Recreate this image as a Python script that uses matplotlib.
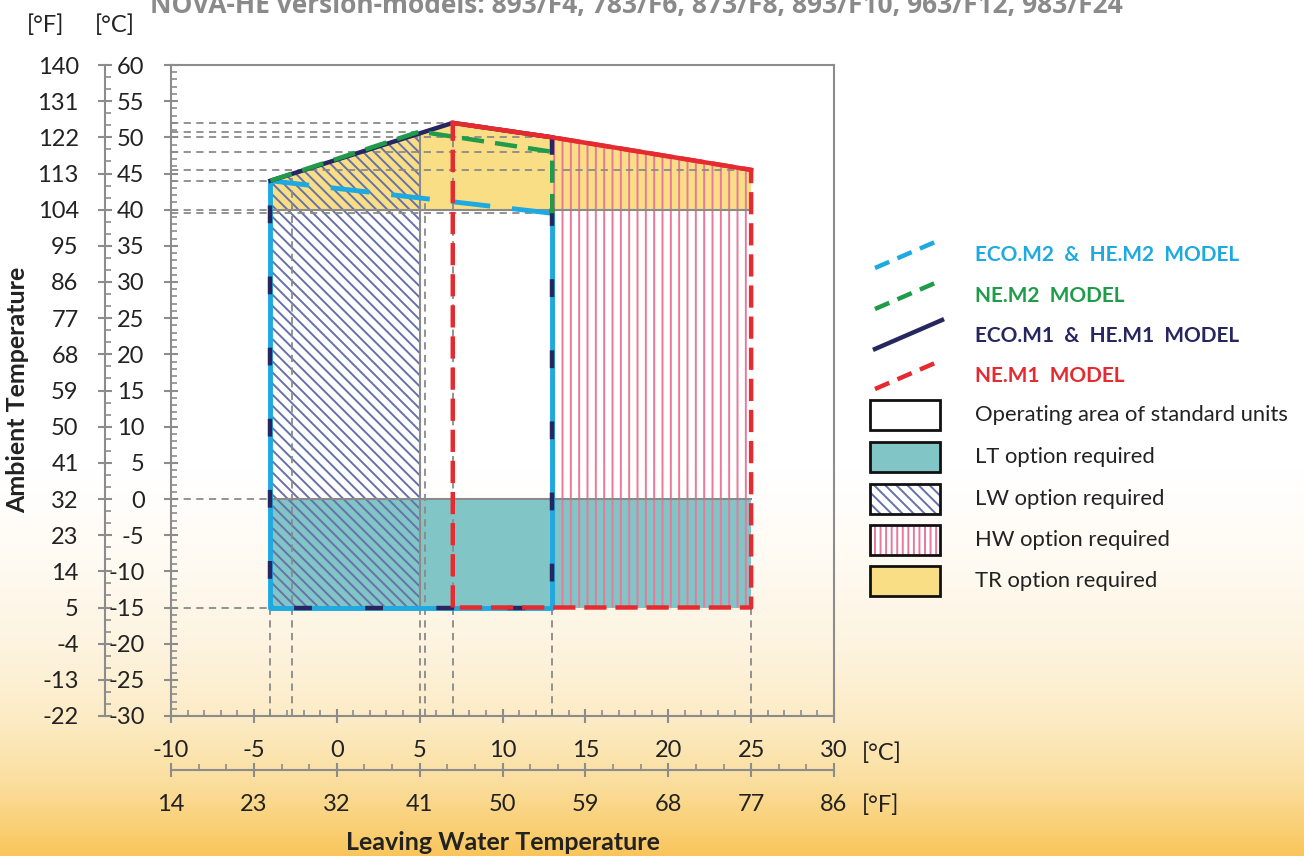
import numpy as np
import matplotlib.pyplot as plt
from matplotlib.patches import Polygon, Rectangle
from matplotlib.lines import Line2D
from matplotlib.ticker import FixedLocator, MultipleLocator

plt.rcParams['font.family'] = ['Lato', 'DejaVu Sans']
plt.rcParams['hatch.linewidth'] = 1.4

# operating envelopes: leaving water temp (°C) vs ambient temp (°C)
m1_x = [-4, -4, 7, 13, 13, -4]          # ECO.M1 & HE.M1
m1_y = [-15, 44, 52, 50, -15, -15]
m2_top_x = [-4, 13]                      # ECO.M2 & HE.M2, upper limit
m2_top_y = [44, 39.5]
m2_x = [13, 13, -4, -4]
m2_y = [39.5, -15, -15, 44]
ne_m2_x = [-4, 5, 13, 13]                # NE.M2
ne_m2_y = [44, 50.8, 48, 39.5]
ne_m1_x = [7, 7, 13, 25, 25, 7]          # NE.M1
ne_m1_y = [-15, 52, 50, 45.5, -15, -15]

# option areas
tr_x = [-4, -4, 7, 13, 25, 25]
tr_y = [40, 44, 52, 50, 45.5, 40]
lt_x = [-4, 25]
lt_y = [-15, 0]
lw_x = [-4, -4, 5, 5]
lw_y = [-15, 44, 50.55, -15]
hw_x = [13, 13, 25, 25]
hw_y = [-15, 50, 45.5, -15]

# dashed guides to the axes
h_guide_y = [52, 50.8, 50, 48, 45.5, 44, 40, 39.5, 0, -15]
h_guide_end = [7, 5, 13, 13, 25, -4, -4, 13, -4, -4]
v_guide_x = [-4, -2.7, 5, 5.3, 7, 13, 25]
v_guide_end = [-15, 44.5, -15, 41.5, 52, -15, -15]

c_xticks = list(range(-10, 31, 5))
f_xticks = [14, 23, 32, 41, 50, 59, 68, 77, 86]
c_yticks = list(range(-30, 61, 5))
f_yticks = [-22, -13, -4, 5, 14, 23, 32, 41, 50, 59, 68, 77, 86, 95, 104, 113, 122, 131, 140]

legend_lines = ['ECO.M2  &  HE.M2  MODEL', 'NE.M2  MODEL', 'ECO.M1  &  HE.M1  MODEL', 'NE.M1  MODEL']
legend_areas = ['Operating area of standard units', 'LT option required', 'LW option required',
                'HW option required', 'TR option required']

c_blue = '#1ea9e1'
c_navy = '#262660'
c_green = '#1f9c49'
c_red = '#e52a30'
c_teal = '#82c5c7'
c_yellow = '#fade85'
c_lw = '#6572aa'
c_hw = '#e8799a'
c_grid = '#8a8a8a'
c_axis = '#8c8c8c'

W, H = 1304, 856
fig = plt.figure(figsize=(W / 100, H / 100), dpi=100)

# background gradient, white to warm yellow at the bottom
bg = fig.add_axes([0, 0, 1, 1], zorder=-10)
rows = np.arange(H)
stops = [0, 470, 560, 650, 720, 780, 856]
cols = np.array([[255, 255, 255], [255, 255, 255], [255, 251, 243], [253, 243, 222],
                 [252, 235, 196], [251, 223, 160], [249, 197, 90]]) / 255
grad = np.stack([np.interp(rows, stops, cols[:, k]) for k in range(3)], axis=1)
bg.imshow(grad[:, None, :], aspect='auto', extent=[0, 1, 0, 1])
bg.axis('off')

ax = fig.add_axes([171 / W, 1 - 716 / H, (834 - 171) / W, (716 - 65) / H])
ax.set_facecolor('none')
ax.set_xlim(-10, 30)
ax.set_ylim(-30, 60)

# filled areas
ax.add_patch(Polygon(list(zip(tr_x, tr_y)), closed=True, facecolor=c_yellow, lw=0, zorder=1))
ax.add_patch(Rectangle((lt_x[0], lt_y[0]), lt_x[1] - lt_x[0], lt_y[1] - lt_y[0],
                       facecolor=c_teal, lw=0, zorder=1))
ax.add_patch(Polygon(list(zip(lw_x, lw_y)), closed=True, fill=False, edgecolor=c_lw,
                     hatch='\\\\\\', lw=0, zorder=2))
ax.add_patch(Polygon(list(zip(hw_x, hw_y)), closed=True, fill=False, edgecolor=c_hw,
                     hatch='||', lw=0, zorder=2))

# thin borders between option areas
ax.plot([-4, 25], [40, 40], color=c_grid, lw=1.5, zorder=3)
ax.plot([-4, 25], [0, 0], color=c_grid, lw=1.5, zorder=3)
ax.plot([5, 5], [-15, 50.55], color=c_grid, lw=1.5, zorder=3)

# dashed guides
for yv, xe in zip(h_guide_y, h_guide_end):
    ax.plot([-10, xe], [yv, yv], color=c_grid, lw=1.3, dashes=(4, 3), zorder=3)
for xv, ye in zip(v_guide_x, v_guide_end):
    ax.plot([xv, xv], [-30, ye], color=c_grid, lw=1.3, dashes=(4, 3), zorder=3)

# envelope outlines
ax.plot(m2_x, m2_y, color=c_blue, lw=3.5, zorder=4, solid_capstyle='butt')
ax.plot(m2_top_x, m2_top_y, color=c_blue, lw=3.5, dashes=(8, 4.5), zorder=4)
ax.plot(m1_x[1:4], m1_y[1:4], color=c_navy, lw=3.2, zorder=5)
ax.plot(m1_x[3:] + [m1_x[0], m1_x[1]], m1_y[3:] + [m1_y[0], m1_y[1]], color=c_navy, lw=3.2,
        dashes=(4, 12), zorder=5)
ax.plot(ne_m2_x, ne_m2_y, color=c_green, lw=3.2, dashes=(5, 2.5), zorder=6)
ax.plot(ne_m1_x[1:4], ne_m1_y[1:4], color=c_red, lw=3.2, zorder=6)
ax.plot(ne_m1_x, ne_m1_y, color=c_red, lw=3.2, dashes=(5, 2), zorder=6)

# axes styling
for s in ax.spines.values():
    s.set_color(c_axis)
    s.set_linewidth(1.5)
ax.set_xticks(c_xticks)
ax.set_yticks(c_yticks)
ax.set_xticklabels([str(v) for v in c_xticks])
ax.set_yticklabels([str(v) for v in c_yticks])
ax.xaxis.set_minor_locator(MultipleLocator(1))
ax.yaxis.set_minor_locator(MultipleLocator(1))
ax.tick_params(which='major', direction='inout', length=10, width=1.5, color=c_axis,
               labelsize=17, labelcolor='#222222')
ax.tick_params(which='minor', direction='in', length=4, width=1.2, color=c_axis)
ax.tick_params(axis='x', pad=12)
ax.tick_params(axis='y', pad=14)


def c2f(c):
    return c * 9 / 5 + 32


def f2c(f):
    return (f - 32) * 5 / 9


secx = ax.secondary_xaxis(-0.083, functions=(c2f, f2c))
secx.set_xticks(f_xticks)
secx.set_xticklabels([str(v) for v in f_xticks])
secx.xaxis.set_minor_locator(FixedLocator(np.arange(14, 87, 3)))
secx.tick_params(which='major', direction='inout', length=10, width=1.5, color=c_axis,
                 labelsize=17, labelcolor='#222222', pad=12)
secx.tick_params(which='minor', direction='in', length=4, width=1.2, color=c_axis)
secx.spines['bottom'].set_color(c_axis)
secx.spines['bottom'].set_linewidth(1.5)

secy = ax.secondary_yaxis(-0.0995, functions=(c2f, f2c))
secy.set_yticks(f_yticks)
secy.set_yticklabels([str(v) for v in f_yticks])
secy.yaxis.set_minor_locator(FixedLocator(np.arange(-22, 141, 3)))
secy.tick_params(which='major', direction='inout', length=10, width=1.5, color=c_axis,
                 labelsize=17, labelcolor='#222222', pad=14)
secy.tick_params(which='minor', direction='in', length=4, width=1.2, color=c_axis)
secy.spines['left'].set_color(c_axis)
secy.spines['left'].set_linewidth(1.5)

# unit markers and axis titles
fig.text(46 / W, 1 - 25 / H, '[°F]', fontsize=17, ha='center', va='center', color='#222222')
fig.text(115 / W, 1 - 25 / H, '[°C]', fontsize=17, ha='center', va='center', color='#222222')
fig.text(862 / W, 1 - 753 / H, '[°C]', fontsize=17, ha='left', va='center', color='#222222')
fig.text(862 / W, 1 - 805 / H, '[°F]', fontsize=17, ha='left', va='center', color='#222222')
fig.text(503 / W, 1 - 843 / H, 'Leaving Water Temperature', fontsize=18, fontweight='bold',
         ha='center', va='center', color='#222222')
fig.text(18 / W, 1 - 390 / H, 'Ambient Temperature', fontsize=18, fontweight='bold',
         rotation=90, ha='center', va='center', color='#222222')
fig.text(150 / W, 1 - 13 / H, 'NOVA-HE version-models: 893/F4, 783/F6, 873/F8, 893/F10, 963/F12, 983/F24',
         fontsize=19, fontweight='bold', color='#8a8a8a', ha='left', va='baseline',
         family=['Open Sans', 'DejaVu Sans'])

# legend panel in pixel coordinates
lax = fig.add_axes([0, 0, 1, 1], zorder=5)
lax.set_xlim(0, W)
lax.set_ylim(H, 0)
lax.axis('off')

line_styles = [(c_blue, (3.5, 2)), (c_green, (3.5, 2)), (c_navy, None), (c_red, (3.5, 2))]
line_yc = [255, 296, 336, 376]
for (col, ds), yc, lab in zip(line_styles, line_yc, legend_lines):
    ln = Line2D([875, 942], [yc + 13, yc - 16], color=col, lw=3.2)
    if ds is not None:
        ln.set_dashes(ds)
    lax.add_line(ln)
    lax.text(975, yc, lab, fontsize=15, fontweight='bold', color=col, va='center', ha='left')

box_top = [400, 442, 484, 525, 566]
box_face = ['white', c_teal, 'white', 'white', c_yellow]
box_hatch = [None, None, ('\\\\\\', c_lw), ('|||', c_hw), None]
for top, fc, hh, lab in zip(box_top, box_face, box_hatch, legend_areas):
    lax.add_patch(Rectangle((870, top), 70, 30, facecolor=fc, lw=0))
    if hh is not None:
        lax.add_patch(Rectangle((870, top), 70, 30, fill=False, hatch=hh[0], edgecolor=hh[1], lw=0))
    lax.add_patch(Rectangle((870, top), 70, 30, fill=False, edgecolor='#111111', lw=2))
    lax.text(975, top + 15, lab, fontsize=15.8, color='#222222', va='center', ha='left')

fig.savefig('out.png', dpi=100)
